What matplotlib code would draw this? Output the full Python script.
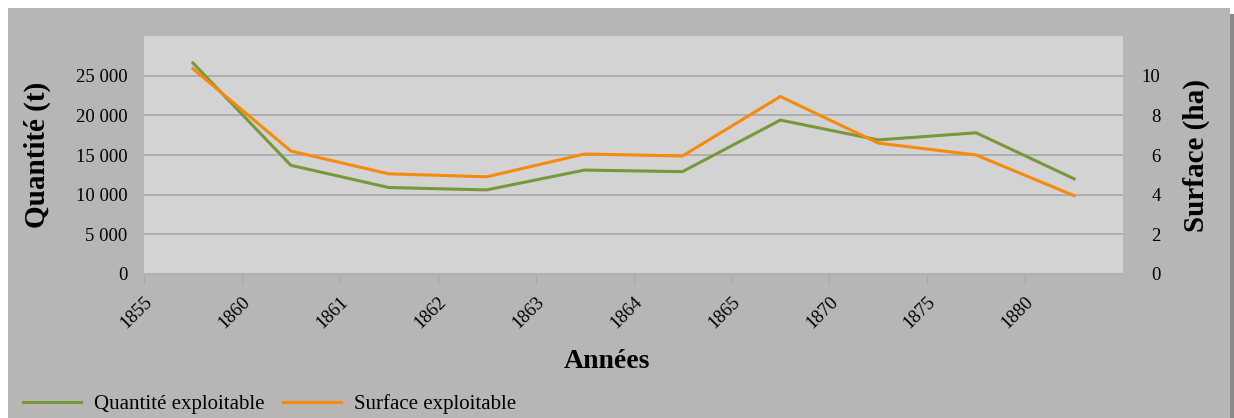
import numpy as np
import matplotlib.pyplot as plt
from matplotlib.patches import Rectangle

plt.rcParams['font.family'] = ['Liberation Serif', 'DejaVu Serif']

annees = ['1855', '1860', '1861', '1862', '1863', '1864', '1865', '1870', '1875', '1880']
quantite = [26600, 13700, 10900, 10600, 13100, 12900, 19400, 16900, 17800, 12000]
surface = [10.35, 6.2, 5.05, 4.9, 6.05, 5.95, 8.95, 6.6, 6.0, 3.95]

fig = plt.figure(figsize=(12.34, 4.18), dpi=100)
fig.patch.set_facecolor('white')
# panneau gris + ombre a droite
fig.patches.append(Rectangle((8/1234, 0), 1222/1234, 410/418, transform=fig.transFigure,
                             facecolor='#b7b6b4', edgecolor='none', zorder=-2))
fig.patches.append(Rectangle((1230/1234, 0), 4/1234, 404/418, transform=fig.transFigure,
                             facecolor='#8a8a8a', edgecolor='none', zorder=-2))

ax = fig.add_axes([144/1234, 1 - 274/418, (1123-144)/1234, (274-36)/418])
ax.set_facecolor('#d4d3d4')
x = np.arange(len(annees)) + 0.5

l1, = ax.plot(x, quantite, color='#77993a', lw=2.2, label='Quantité exploitable')
ax.set_xlim(0, len(annees))
ax.set_ylim(0, 30000)
ax.set_yticks(range(0, 25001, 5000))
ax.set_yticklabels(['0', '5 000', '10 000', '15 000', '20 000', '25 000'], fontsize=13.5)
ax.tick_params(axis='y', length=0, pad=12)
ax.yaxis.grid(True, color='#a8a8a8', lw=1.2)
ax.set_axisbelow(True)
ax.set_xticks(range(len(annees)))
ax.set_xticklabels(annees, rotation=45, ha='right', rotation_mode='anchor', fontsize=13.5)
ax.tick_params(axis='x', length=7, color='#a8a8a8', pad=7)
for s in ['top', 'left', 'right']:
    ax.spines[s].set_visible(False)
ax.spines['bottom'].set_color('#b0b0b0')
ax.set_ylabel('Quantité (t)', fontsize=21, fontweight='bold', labelpad=18)

ax2 = ax.twinx()
l2, = ax2.plot(x, surface, color='#f58a0c', lw=2.2, label='Surface exploitable')
ax2.set_ylim(0, 12)
ax2.set_yticks(range(0, 11, 2))
ax2.tick_params(axis='y', length=0, pad=27, labelsize=13.5)
for lab in ax2.get_yticklabels():
    lab.set_ha('right')
for s in ax2.spines.values():
    s.set_visible(False)
ax2.set_ylabel('Surface (ha)', fontsize=21, fontweight='bold', labelpad=16)

fig.text(607/1234, 1 - 361/418, 'Années', fontsize=20, fontweight='bold',
         ha='center', va='center')

fig.legend(handles=[l1, l2], loc='lower left', bbox_to_anchor=(4/1234, -0.035),
           ncol=2, frameon=False, fontsize=15, handlelength=2.8, columnspacing=0.9,
           handletextpad=0.6)

fig.savefig('out.png', dpi=100)
